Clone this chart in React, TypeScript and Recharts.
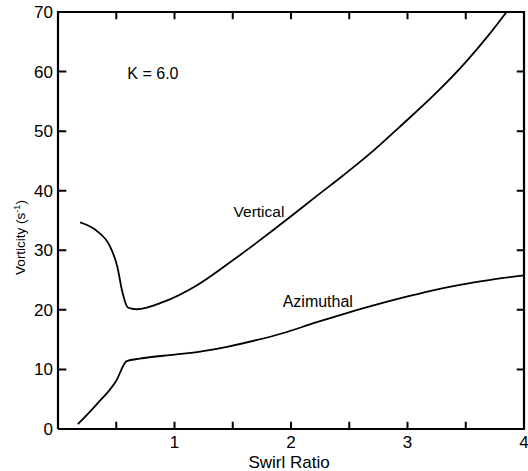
import React from 'react';
import { LineChart, Line, XAxis, YAxis, ReferenceDot } from 'recharts';

const verticalX = [0.19, 0.33, 0.45, 0.51, 0.55, 0.6, 0.675, 0.9, 1.19, 1.45, 1.7, 2.0, 2.2, 2.45, 2.7, 2.96, 3.25, 3.5, 3.7, 3.85];
const verticalY = [34.7, 33.3, 30.5, 27.2, 23.2, 20.4, 20.1, 21.3, 24.1, 27.6, 31.2, 35.7, 38.8, 42.6, 46.6, 51.2, 56.5, 61.6, 66.2, 70.0];

const azimuthalX = [0.17, 0.33, 0.5, 0.59, 0.7, 1.0, 1.22, 1.45, 1.7, 1.95, 2.2, 2.45, 2.7, 2.95, 3.2, 3.45, 3.7, 4.0];
const azimuthalY = [0.8, 4.1, 8.1, 11.4, 11.8, 12.5, 13.0, 13.8, 14.9, 16.2, 17.8, 19.3, 20.7, 22.0, 23.2, 24.2, 25.0, 25.8];

const xTicks = [0, 0.5, 1, 1.5, 2, 2.5, 3, 3.5, 4];
const yTicks = [0, 10, 20, 30, 40, 50, 60, 70];
const X_MIN = 0;
const X_MAX = 4;
const Y_MIN = 0;
const Y_MAX = 70;

const annotations = [
  { text: 'K = 6.0', x: 0.815, y: 59.8, size: 16 },
  { text: 'Vertical', x: 1.725, y: 36.5, size: 15.5 },
  { text: 'Azimuthal', x: 2.23, y: 21.4, size: 16 },
];

const verticalData = verticalX.map((x, i) => ({ x, y: verticalY[i] }));
const azimuthalData = azimuthalX.map((x, i) => ({ x, y: azimuthalY[i] }));

const FONT = '"Liberation Sans Narrow", "Liberation Sans", Arial, sans-serif';
const INK = 'black';

// inward tick lengths in data units (about 7 px)
const TICK_DY = 1.2;
const TICK_DX = 0.062;

const innerX = xTicks.filter((t) => t > X_MIN && t < X_MAX);
const innerY = yTicks.filter((t) => t > Y_MIN && t < Y_MAX);

// frame (box) drawn through the chart scales
const frameData = [
  { x: X_MIN, y: Y_MIN },
  { x: X_MIN, y: Y_MAX },
  { x: X_MAX, y: Y_MAX },
  { x: X_MAX, y: Y_MIN },
  { x: X_MIN, y: Y_MIN },
];

// tick marks as broken polylines (null breaks the path)
const tickData: { x: number; y: number | null }[] = [];
innerX.forEach((t) => {
  tickData.push({ x: t, y: Y_MIN }, { x: t, y: Y_MIN + TICK_DY }, { x: t, y: null });
  tickData.push({ x: t, y: Y_MAX }, { x: t, y: Y_MAX - TICK_DY }, { x: t, y: null });
});
innerY.forEach((t) => {
  tickData.push({ x: X_MIN, y: t }, { x: X_MIN + TICK_DX * 1.15, y: t }, { x: X_MIN, y: null });
  tickData.push({ x: X_MAX, y: t }, { x: X_MAX - TICK_DX, y: t }, { x: X_MAX, y: null });
});

const XTitle = (props: any) => {
  const vb = props.viewBox || {};
  return (
    <text x={vb.x + vb.width / 2 - 2} y={vb.y + 39} textAnchor="middle" fontFamily={FONT} fontSize={17} fill={INK}>
      Swirl Ratio
    </text>
  );
};

const YTitle = (props: any) => {
  const vb = props.viewBox || {};
  const cx = vb.x + 25;
  const cy = vb.y + vb.height / 2 + 17;
  return (
    <text
      transform={`translate(${cx},${cy}) rotate(-90)`}
      textAnchor="middle"
      fontFamily={FONT}
      fontSize={13.5}
      fill={INK}
    >
      Vorticity (s
      <tspan baselineShift="super" fontSize={9}>-1</tspan>)
    </text>
  );
};

const makeNote = (text: string, size: number) => (props: any) => {
  const vb = props.viewBox || {};
  const cx = vb.cx !== undefined ? vb.cx : vb.x + (vb.width || 0) / 2;
  const cy = vb.cy !== undefined ? vb.cy : vb.y + (vb.height || 0) / 2;
  return (
    <text x={cx} y={cy + size * 0.36} textAnchor="middle" fontFamily={FONT} fontSize={size} fill={INK}>
      {text}
    </text>
  );
};

export default function App() {
  return (
    <div style={{ position: 'absolute', left: 0, top: 0, width: 528, height: 471, background: '#fff' }}>
      <LineChart width={528} height={471} margin={{ top: 12, right: 4, bottom: 0, left: 0 }}>
        <XAxis
          dataKey="x"
          type="number"
          domain={[X_MIN, X_MAX]}
          ticks={xTicks}
          interval={0}
          height={42}
          tickSize={0}
          tickMargin={7}
          tickLine={false}
          axisLine={false}
          tick={{ fontFamily: FONT, fontSize: 17, fill: INK }}
          tickFormatter={(v: number) => (Number.isInteger(v) && v > 0 ? String(v) : '')}
          label={<XTitle />}
        />
        <YAxis
          type="number"
          domain={[Y_MIN, Y_MAX]}
          ticks={yTicks}
          interval={0}
          width={58}
          tickSize={0}
          tickMargin={5}
          tickLine={false}
          axisLine={false}
          tick={{ fontFamily: FONT, fontSize: 17, fill: INK }}
          label={<YTitle />}
        />
        {annotations.map((a) => (
          <ReferenceDot
            key={a.text}
            x={a.x}
            y={a.y}
            r={0}
            fill="none"
            stroke="none"
            label={makeNote(a.text, a.size)}
          />
        ))}
        <Line
          data={frameData}
          dataKey="y"
          type="linear"
          stroke={INK}
          strokeWidth={2.2}
          strokeLinejoin="miter"
          dot={false}
          activeDot={false}
          isAnimationActive={false}
        />
        <Line
          data={tickData}
          dataKey="y"
          type="linear"
          stroke={INK}
          strokeWidth={2}
          connectNulls={false}
          dot={false}
          activeDot={false}
          isAnimationActive={false}
        />
        <Line
          data={verticalData}
          dataKey="y"
          type="monotone"
          stroke={INK}
          strokeWidth={1.8}
          dot={false}
          activeDot={false}
          isAnimationActive={false}
        />
        <Line
          data={azimuthalData}
          dataKey="y"
          type="monotone"
          stroke={INK}
          strokeWidth={1.8}
          dot={false}
          activeDot={false}
          isAnimationActive={false}
        />
      </LineChart>
    </div>
  );
}
